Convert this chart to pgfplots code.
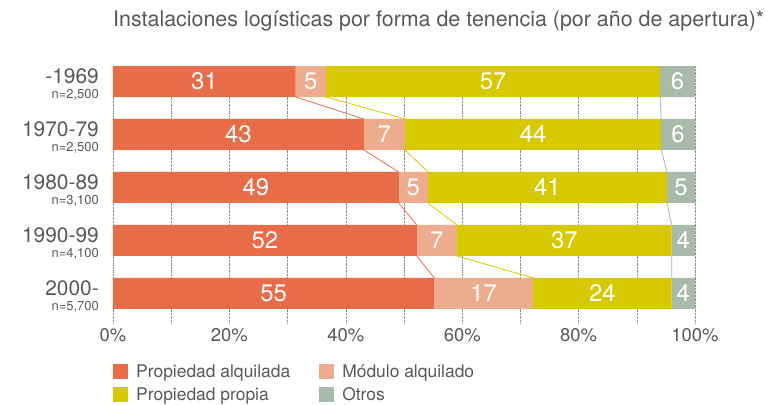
\documentclass[border=0pt]{standalone}
\usepackage{pgfplots}
\pgfplotsset{compat=1.18}
\usepackage{pgfplotstable}
\usepackage{fontspec}
\setmainfont{TeX Gyre Heros}
\definecolor{cAlq}{RGB}{232,108,72}
\definecolor{cMod}{RGB}{237,172,142}
\definecolor{cPro}{RGB}{214,201,0}
\definecolor{cOtr}{RGB}{168,186,170}
\definecolor{txt}{RGB}{88,88,88}
\pgfplotstableread{
row a b c d
0 31.4 5.2 57.4 6.0
1 43.1 7.1 44.0 5.8
2 49.1 5.0 41.1 4.8
3 52.2 6.9 36.9 4.0
4 55.2 17.0 23.8 4.0
}\data
\pgfplotstableread{
x y
31.4 0.2925
43.1 0.7075
nan nan
43.1 1.2925
49.1 1.7075
nan nan
49.1 2.2925
52.2 2.7075
nan nan
52.2 3.2925
55.2 3.7075
}\lineA
\pgfplotstableread{
x y
36.6 0.2925
50.2 0.7075
nan nan
50.2 1.2925
54.1 1.7075
nan nan
54.1 2.2925
59.1 2.7075
nan nan
59.1 3.2925
72.2 3.7075
}\lineB
\pgfplotstableread{
x y
94.0 0.2925
94.2 0.7075
nan nan
94.2 1.2925
95.2 1.7075
nan nan
95.2 2.2925
96.0 2.7075
nan nan
96.0 3.2925
96.0 3.7075
}\lineC
\newcommand\yl[2]{{\fontsize{21}{21}\selectfont #1}\\[3bp]{\fontsize{13}{13}\selectfont n=#2}}
\pgfplotsset{
  common/.style={
    scale only axis, width=582bp, height=257bp,
    xmin=0, xmax=100, ymin=-0.2925, ymax=4.557, y dir=reverse,
    at={(113bp,82bp)}, anchor=south west,
    /pgf/number format/assume math mode=true,
  },
  lbl/.style={draw=none, mark=none, nodes near coords={\pgfmathprintnumber[fixed,precision=0]{\pgfplotspointmeta}},
    every node near coord/.append style={anchor=center, text=white, font=\fontsize{24}{24}\selectfont}},
}
\begin{document}
\begin{tikzpicture}
\useasboundingbox (0,0) rectangle (779bp,405bp);
\begin{axis}[common,
  xbar stacked, bar width=31bp,
  axis line style={draw=none}, tick style={draw=none},
  xtick={0,20,...,100}, minor xtick={10,30,...,90},
  xmajorgrids, xminorgrids,
  major grid style={densely dotted, line width=0.6bp, color=black!45},
  minor grid style={densely dotted, line width=0.6bp, color=black!45},
  xticklabel={\pgfmathprintnumber{\tick}\%},
  xticklabel style={font=\fontsize{18.5}{20}\selectfont, text=txt, inner sep=0pt, yshift=-5bp},
  ytick={0,1,2,3,4},
  yticklabels={{\yl{-1969}{2,500}},{\yl{1970-79}{2,500}},{\yl{1980-89}{3,100}},{\yl{1990-99}{4,100}},{\yl{2000-}{5,700}}},
  yticklabel style={align=right, text=txt, inner sep=0pt, xshift=-14bp, yshift=-3bp},
  title={Instalaciones logísticas por forma de tenencia (por año de apertura)*},
  title style={at={(0,1)}, anchor=base west, yshift=34bp, font=\fontsize{21.5}{24}\selectfont, text=txt, inner sep=0pt},
  legend columns=2, legend cell align=left,
  legend style={at={(0,-0.159)}, anchor=north west, draw=none, fill=none, inner sep=0pt,
    nodes={inner sep=0pt},
    font=\fontsize{17.5}{20}\selectfont, text=txt, row sep=8bp,
    /tikz/every odd column/.append style={column sep=8bp},
    /tikz/every even column/.append style={column sep=29bp}},
  legend image code/.code={\fill[#1] (0bp,-7.5bp) rectangle (15bp,7.5bp);},
]
\addplot[fill=cAlq, draw=none] table[x=a, y=row]{\data};
\addlegendentry{Propiedad alquilada}
\addplot[fill=cMod, draw=none] table[x=b, y=row]{\data};
\addlegendentry{Módulo alquilado}
\addplot[fill=cPro, draw=none] table[x=c, y=row]{\data};
\addlegendentry{Propiedad propia}
\addplot[fill=cOtr, draw=none] table[x=d, y=row]{\data};
\addlegendentry{Otros}
\end{axis}
\begin{axis}[common, hide axis, unbounded coords=jump]
\addplot[cAlq, line width=0.8bp, mark=none] table{\lineA};
\addplot[cPro, line width=0.8bp, mark=none] table{\lineB};
\addplot[cOtr, line width=0.8bp, mark=none] table{\lineC};
\addplot[lbl, point meta=\thisrow{a}] table[x expr=\thisrow{a}/2, y=row]{\data};
\addplot[lbl, point meta=\thisrow{b}] table[x expr=\thisrow{a}+\thisrow{b}/2, y=row]{\data};
\addplot[lbl, point meta=\thisrow{c}] table[x expr=\thisrow{a}+\thisrow{b}+\thisrow{c}/2, y=row]{\data};
\addplot[lbl, point meta=\thisrow{d}] table[x expr=\thisrow{a}+\thisrow{b}+\thisrow{c}+\thisrow{d}/2, y=row]{\data};
\end{axis}
\end{tikzpicture}
\end{document}
